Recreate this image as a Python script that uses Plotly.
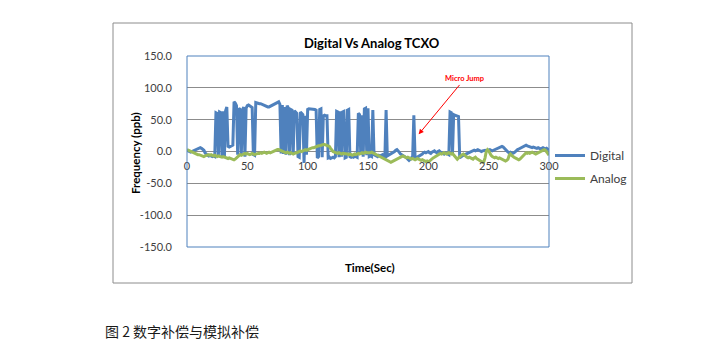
import plotly.graph_objects as go

# ---- data ----
time_sec = list(range(0, 301))

digital = [
    2, 1, 0, -1, 0, 1, 2, 3, 3, 4,
    5, 6, 5, 4, 2, -2, -5, -6, -7, -6,
    -7, -8, -7, -8, 61, 60, -8, 62, 61, -9,
    63, -8, 64, 70, 8, 7, 8, 9, 10, 78,
    76, 72, -5, 68, 66, -6, 65, 70, -8, 68,
    72, 73, 72, 70, 69, -5, -6, 77, 76, 76,
    75, 75, 74, 73, 73, 72, 71, 70, 70, 71,
    72, 73, 73, 74, 75, 76, 78, 74, -3, 73,
    -4, 70, -5, 72, 68, -6, 66, 65, -5, 64,
    62, 60, -8, -9, 62, 60, 58, -18, 56, -5,
    66, 67, 67, 66, 67, 66, 66, 65, -10, -8,
    66, 67, -9, 56, 57, 56, 56, -10, -9, -11,
    -10, -9, -10, -8, 63, 62, -9, 63, -8, 62,
    63, -10, -9, 65, 66, -8, -9, -8, -9, -7,
    -8, -9, 60, 58, -5, 57, -8, 67, 68, -6,
    68, -8, -7, -8, 65, -5, -6, -7, -8, -6,
    -7, -6, -5, -8, -9, 65, -7, -6, -5, -4,
    -3, -2, 0, 2, 3, 1, -2, -4, -5, -6,
    -8, -9, -10, -12, -14, -12, -10, -8, 57, -9,
    -10, -9, -8, -7, -6, -4, -2, -1, -2, -1,
    0, -2, -3, -1, 0, 1, -1, -2, 0, 1,
    -1, -2, -3, -4, -2, -3, -4, -5, 62, 61,
    -5, 58, 57, 56, 56, 55, -10, -8, -7, -6,
    -5, -4, -3, -2, -2, -1, 0, 1, 2, 1,
    2, 3, 2, 1, 0, 1, 2, 2, 1, 2,
    2, 3, 2, 1, 2, 3, 4, 5, 6, 7,
    8, 8, 7, 5, 2, 0, -1, -2, -1, -2,
    -3, -2, 0, 2, 3, 4, 5, 5, 6, 7,
    8, 10, 9, 8, 8, 7, 6, 7, 6, 5,
    5, 6, 5, 4, 5, 6, 5, 4, 5, 4,
    2,
]

analog = [
    3, 2, 1, 0, -1, -2, -2, -3, -4, -5,
    -5, -6, -7, -8, -8, -7, -6, -5, -5, -6,
    -5, -6, -7, -6, -7, -8, -7, -8, -8, -9,
    -8, -9, -10, -10, -11, -10, -11, -12, -13, -13,
    -12, -10, -8, -6, -5, -6, -5, -4, -3, -4,
    -3, -4, -5, -4, -3, -4, -5, -4, -3, -3,
    -3, -2, -3, -2, -1, -2, -3, -2, -1, -2,
    -1, 0, 1, 1, 2, 3, 3, 2, 1, 0,
    0, -1, -2, -1, -2, -3, -2, -3, -4, -3,
    -3, -2, -1, 0, 1, 0, 1, 2, 3, 2,
    3, 4, 5, 5, 6, 6, 7, 8, 8, 9,
    9, 10, 10, 11, 11, 10, 10, 9, 8, 5,
    2, 0, -1, -2, -3, -3, -2, -3, -4, -3,
    -3, -4, -3, -4, -5, -4, -5, -6, -5, -4,
    -5, -4, -3, -4, -3, -2, -3, -2, -1, -2,
    -2, -3, -2, -1, -2, -3, -4, -5, -6, -6,
    -7, -8, -9, -10, -11, -12, -14, -15, -16, -17,
    -16, -15, -14, -12, -11, -10, -9, -8, -8, -7,
    -8, -9, -10, -9, -10, -11, -12, -11, -12, -13,
    -12, -11, -12, -13, -14, -13, -14, -15, -16, -15,
    -16, -15, -13, -12, -10, -9, -8, -6, -5, -4,
    -3, -4, -3, -2, -3, -4, -3, -2, -3, -4,
    -3, -5, -8, -10, -12, -10, -8, -6, -5, -4,
    -6, -8, -9, -10, -9, -10, -11, -12, -10, -9,
    -11, -12, -13, -14, -16, -17, -16, -10, 0, 3,
    1, -3, -6, -8, -9, -10, -9, -10, -11, -10,
    -11, -12, -13, -14, -15, -14, -12, -6, -4, -6,
    -8, -9, -10, -11, -12, -13, -12, -10, -8, -5,
    -3, -2, -3, -2, -3, -2, -1, -2, -3, -4,
    -3, -2, -1, 0, 1, 2, 3, 2, 0, -3,
    -6,
]

x_tick_vals = [0, 50, 100, 150, 200, 250, 300]
x_tick_text = ["0", "50", "100", "150", "200", "250", "300"]
y_tick_vals = [-150, -100, -50, 0, 50, 100, 150]
y_tick_text = ["-150.0", "-100.0", "-50.0", "0.0", "50.0", "100.0", "150.0"]

series_names = ["Digital", "Analog"]
series_colors = ["#4F81BD", "#9BBB59"]

title_text = "Digital Vs Analog TCXO"
x_title = "Time(Sec)"
y_title = "Frequency (ppb)"
note_text = "Micro Jump"
note_point = (192, 27)     # where the arrow points (time, ppb)
note_label = (230, 114)    # where the label sits (time, ppb)
caption_text = "图 2 数字补偿与模拟补偿"

FONT = "Lato, 'Open Sans', sans-serif"

fig = go.Figure()
for name, ys, col in zip(series_names, [digital, analog], series_colors):
    fig.add_trace(go.Scatter(
        x=time_sec, y=ys, mode="lines", name=name, legendgroup=name,
        line=dict(color=col, width=3),
    ))

# page offset of the figure (browser body margin)
OFF = 8
W, H = 726 - 2 * OFF, 361 - 2 * OFF
# plot area in page pixels
L, R, T, B = 187, 549, 56, 247


def px(xp):
    return (xp - L) / (R - L)


def py(yp):
    return (B - yp) / (B - T)


fig.update_layout(
    width=W, height=H,
    margin=dict(l=L - OFF, r=W - (R - OFF), t=T - OFF, b=H - (B - OFF), pad=0),
    paper_bgcolor="white", plot_bgcolor="white",
    font=dict(family=FONT, size=11, color="#404040"),
    showlegend=True,
    legend=dict(
        x=px(550), y=py(141), xanchor="left", yanchor="top",
        font=dict(family=FONT, size=12, color="#404040"),
        tracegroupgap=4, bgcolor="rgba(0,0,0,0)", borderwidth=0,
    ),
    xaxis=dict(
        range=[0, 300], tickvals=x_tick_vals, ticktext=x_tick_text,
        showgrid=False, zeroline=False, showline=False,
        anchor="free", position=0.5, ticks="", ticklabelstandoff=6,
        tickfont=dict(family=FONT, size=11, color="#404040"),
    ),
    yaxis=dict(
        range=[-150, 150], tickvals=y_tick_vals, ticktext=y_tick_text,
        showgrid=True, gridcolor="#8C8C8C", gridwidth=1,
        zeroline=False, showline=False, ticks="", ticklabelstandoff=14,
        tickfont=dict(family=FONT, size=11, color="#404040"),
    ),
    shapes=[
        dict(type="rect", xref="paper", yref="paper",
             x0=px(113), x1=px(632), y0=py(283), y1=py(23),
             line=dict(color="#8C8C8C", width=1), layer="below"),
        dict(type="rect", xref="paper", yref="paper",
             x0=0, x1=1, y0=0, y1=1,
             line=dict(color="#4F81BD", width=1), layer="above"),
    ],
    annotations=[
        dict(text="<b>" + title_text + "</b>", xref="paper", yref="paper",
             x=px(372), y=py(43), xanchor="center", yanchor="middle",
             showarrow=False, font=dict(family=FONT, size=13, color="#000000")),
        dict(text="<b>" + x_title + "</b>", xref="paper", yref="paper",
             x=px(370), y=py(267), xanchor="center", yanchor="middle",
             showarrow=False, font=dict(family=FONT, size=11.5, color="#000000")),
        dict(text="<b>" + y_title + "</b>", xref="paper", yref="paper",
             x=px(135), y=py(153), xanchor="center", yanchor="middle",
             textangle=-90, showarrow=False,
             font=dict(family=FONT, size=11.5, color="#000000")),
        dict(text="<b>" + note_text + "</b>", xref="x", yref="y",
             x=note_point[0], y=note_point[1],
             axref="x", ayref="y", ax=note_label[0], ay=note_label[1],
             showarrow=True, arrowhead=2, arrowsize=1, arrowwidth=1,
             arrowcolor="#FF0000",
             font=dict(family=FONT, size=7.5, color="#FF0000")),
        dict(text=caption_text, xref="paper", yref="paper",
             x=px(103), y=py(331), xanchor="left", yanchor="middle",
             showarrow=False,
             font=dict(family="'Noto Sans CJK SC', sans-serif", size=14, color="#1A1A1A")),
    ],
)

fig.write_html("out.html")
